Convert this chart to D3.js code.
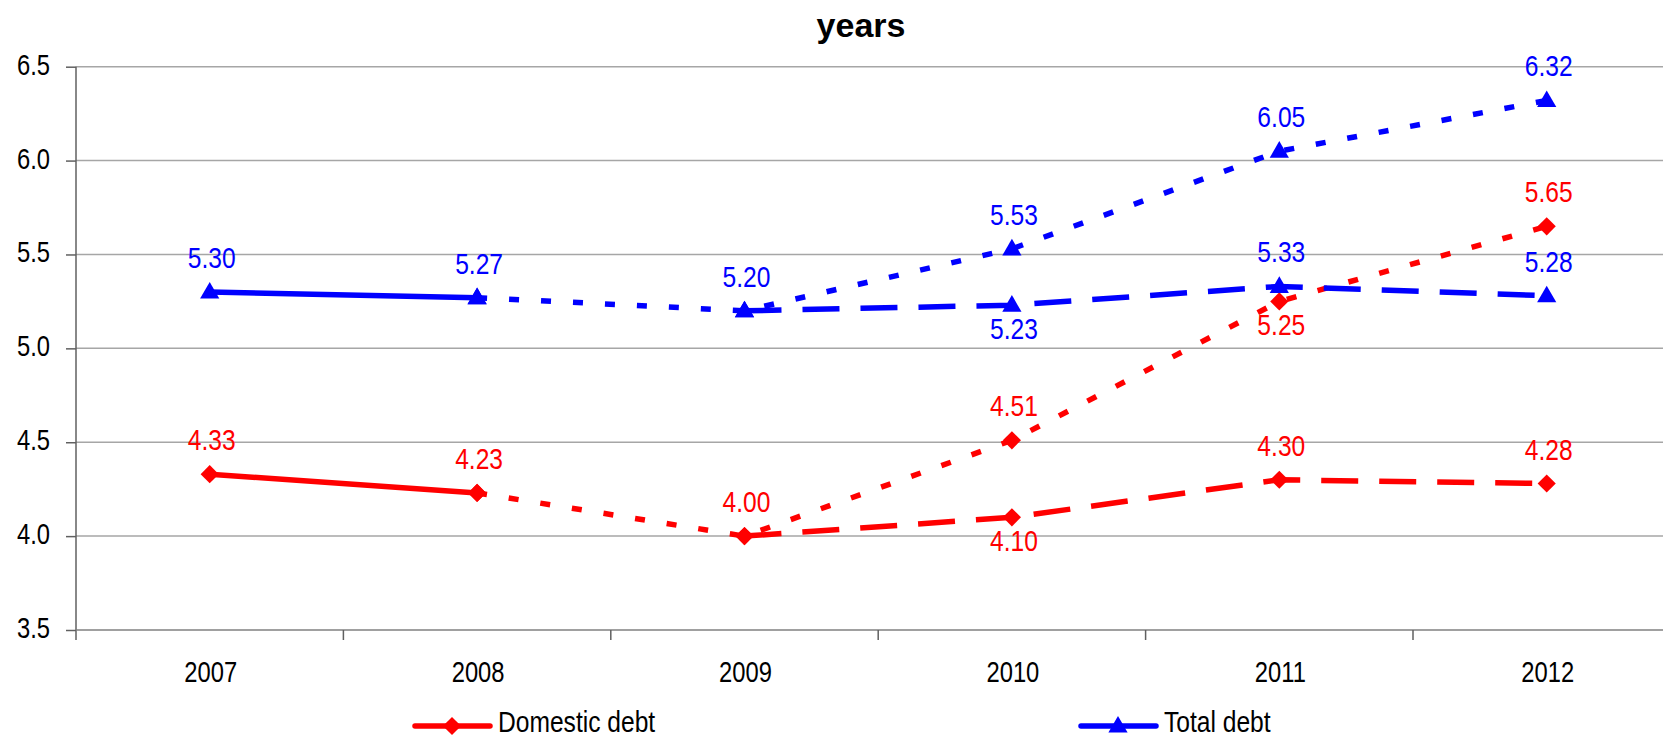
<!DOCTYPE html>
<html>
<head>
<meta charset="utf-8">
<script src="https://cdn.jsdelivr.net/npm/d3@7"></script>
<style>
  body { margin: 0; background: #fff; }
  svg { display: block; }
  text { font-family: "Liberation Sans", Arial, sans-serif; }
</style>
</head>
<body>
<svg width="1663" height="740"></svg>
<script>
// categories and tick labels
var years = ["2007", "2008", "2009", "2010", "2011", "2012"];
var yTicks = [3.5, 4.0, 4.5, 5.0, 5.5, 6.0, 6.5];

// domestic debt: actual, upper scenario (dotted), lower scenario (dashed)
var domesticActual = [4.33, 4.23, null, null, null, null];
var domesticHigh   = [null, 4.23, 4.00, 4.51, 5.25, 5.65];
var domesticLow    = [null, null, 4.00, 4.10, 4.30, 4.28];

// total debt
var totalActual = [5.30, 5.27, null, null, null, null];
var totalHigh   = [null, 5.27, 5.20, 5.53, 6.05, 6.32];
var totalLow    = [null, null, 5.20, 5.23, 5.33, 5.28];

// where the value label goes (null = no label, point already labelled)
var domesticActualLbl = ["up", "up", null, null, null, null];
var domesticHighLbl   = [null, null, "up", "up", "down", "up"];
var domesticLowLbl    = [null, null, null, "down", "up", "up"];
var totalActualLbl    = ["up", "up", null, null, null, null];
var totalHighLbl      = [null, null, "up", "up", "up", "up"];
var totalLowLbl       = [null, null, null, "down", "up", "up"];

var legendNames = ["Domestic debt", "Total debt"];

var red = "#ff0000", blue = "#0000ff";
var narrow = 0.82; // squeeze text, no narrow font here
var svg = d3.select("svg");

var left = 76, catW = 267.4;
var x = d3.scaleBand().domain(years).range([left, left + catW * years.length]);
var y = d3.scaleLinear().domain([3.5, 6.5]).range([630, 66.7]);

function nText(g, tx, ty) {
    return g.append("text").attr("transform", "translate(" + tx + "," + ty + ") scale(" + narrow + ",1)");
}

// gridlines
svg.append("g").selectAll("line").data(yTicks.slice(1)).enter().append("line")
    .attr("x1", left).attr("x2", x.range()[1])
    .attr("y1", function(d){ return y(d); }).attr("y2", function(d){ return y(d); })
    .attr("stroke", "#a6a6a6").attr("stroke-width", 1.5);

// y axis
var yAxis = svg.append("g").attr("transform", "translate(" + left + ",0)")
    .call(d3.axisLeft(y).tickValues(yTicks).tickSize(10).tickFormat(""));
yAxis.select(".domain").attr("stroke", "#606060").attr("stroke-width", 1.5)
    .attr("d", "M0," + y(6.5) + "V640");
yAxis.selectAll(".tick line").attr("stroke", "#606060").attr("stroke-width", 1.5);
yTicks.forEach(function(t){
    nText(svg, 50, y(t) + 8).attr("text-anchor", "end").attr("font-size", 29)
        .text(d3.format(".1f")(t));
});

// x axis - ticks between categories
var xAxis = svg.append("g").attr("transform", "translate(0,630)");
xAxis.append("line").attr("x1", left).attr("x2", x.range()[1])
    .attr("stroke", "#808080").attr("stroke-width", 1.5);
xAxis.selectAll(".xt").data(years.slice(1)).enter().append("line")
    .attr("x1", function(d){ return x(d); }).attr("x2", function(d){ return x(d); })
    .attr("y1", 0).attr("y2", 10).attr("stroke", "#606060").attr("stroke-width", 1.5);
years.forEach(function(yr){
    nText(xAxis, x(yr) + x.bandwidth() / 2 + 1, 52).attr("text-anchor", "middle")
        .attr("font-size", 29).text(yr);
});

// title
svg.append("text").attr("x", 861).attr("y", 37).attr("text-anchor", "middle")
    .attr("font-size", 34).attr("font-weight", "bold")
    .text("years");

var line = d3.line()
    .defined(function(d){ return d != null; })
    .x(function(d, i){ return x(years[i]) + x.bandwidth() / 2; })
    .y(function(d){ return y(d); });

var diamond = d3.symbol().type(d3.symbolSquare).size(165);
var tri = d3.symbol().type(d3.symbolTriangle).size(160);

function drawSeries(vals, lbls, color, dash, marker, isTri) {
    svg.append("path").datum(vals)
        .attr("d", line)
        .attr("fill", "none").attr("stroke", color).attr("stroke-width", 5.5)
        .attr("stroke-dasharray", dash);
    var pts = [];
    vals.forEach(function(v, i){ if (v != null) pts.push({v: v, i: i, l: lbls[i]}); });
    svg.append("g").selectAll("path").data(pts).enter().append("path")
        .attr("d", marker)
        .attr("transform", function(d){
            var cx = x(years[d.i]) + x.bandwidth() / 2;
            return "translate(" + cx + "," + (y(d.v) + (isTri ? 1 : 0)) + ")" + (isTri ? "" : " rotate(45)");
        })
        .attr("fill", color);
    var g = svg.append("g");
    pts.forEach(function(d){
        if (!d.l) return;
        nText(g, x(years[d.i]) + x.bandwidth() / 2 + 2, y(d.v) + (d.l == "up" ? -24 : 34))
            .attr("text-anchor", "middle").attr("font-size", 30).attr("fill", color)
            .text(d.v.toFixed(2));
    });
}

drawSeries(domesticActual, domesticActualLbl, red, null, diamond, false);
drawSeries(domesticHigh, domesticHighLbl, red, "10,22", diamond, false);
drawSeries(domesticLow, domesticLowLbl, red, "37,21", diamond, false);
drawSeries(totalActual, totalActualLbl, blue, null, tri, true);
drawSeries(totalHigh, totalHighLbl, blue, "10,22", tri, true);
drawSeries(totalLow, totalLowLbl, blue, "37,21", tri, true);

// legend
var legX = [415, 1081];
legendNames.forEach(function(name, i){
    var c = i ? blue : red;
    var g = svg.append("g").attr("transform", "translate(" + legX[i] + ",726)");
    g.append("line").attr("x1", 0).attr("x2", 75)
        .attr("stroke", c).attr("stroke-width", 5.5).attr("stroke-linecap", "round");
    g.append("path").attr("d", i ? tri() : diamond())
        .attr("transform", "translate(37," + (i ? 1 : 0) + ")" + (i ? "" : " rotate(45)"))
        .attr("fill", c);
    nText(g, 83, 6).attr("font-size", 30).text(name);
});
</script>
</body>
</html>
